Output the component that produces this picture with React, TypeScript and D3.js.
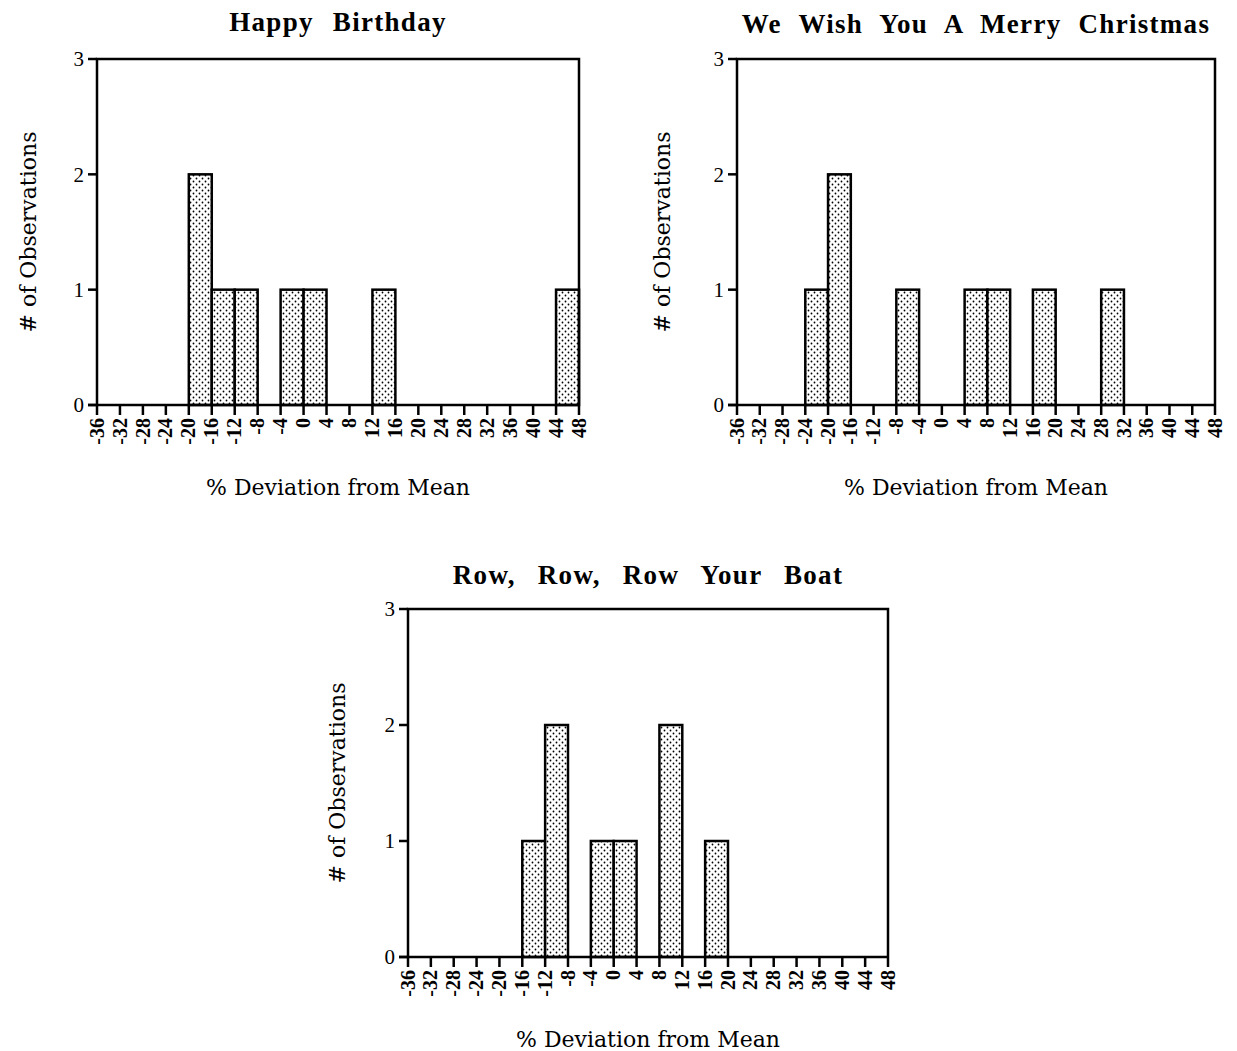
import React from 'react';
import * as d3 from 'd3';

// bin starts (% deviation), each bin is 4 wide
const birthdayBins = [-20, -16, -12, -4, 0, 12, 44];
const birthdayCounts = [2, 1, 1, 1, 1, 1, 1];

const christmasBins = [-24, -20, -8, 4, 8, 16, 28];
const christmasCounts = [1, 2, 1, 1, 1, 1, 1];

const rowBins = [-16, -12, -4, 0, 8, 16];
const rowCounts = [1, 2, 1, 1, 2, 1];

const xTicks = d3.range(-36, 49, 4);
const yTicks = [0, 1, 2, 3];

const times = '"Liberation Serif", serif';
const schoolbook = '"DejaVu Serif", serif';

type PanelProps = {
  title: string;
  bins: number[];
  counts: number[];
  left: number;
  right: number;
  top: number;
  bottom: number;
  titleY: number;
  yLabelX: number;
  gap: number;
};

function Panel({ title, bins, counts, left, right, top, bottom, titleY, yLabelX, gap }: PanelProps) {
  const x = d3.scaleLinear().domain([-36, 48]).range([left, right]);
  const y = d3.scaleLinear().domain([0, 3]).range([bottom, top]);
  const cx = (left + right) / 2;

  return (
    <g>
      <text
        x={cx}
        y={titleY}
        textAnchor="middle"
        fontFamily={times}
        fontWeight="bold"
        fontSize={27}
        letterSpacing={1.3}
        wordSpacing={gap}
      >
        {title}
      </text>

      {bins.map((b, i) => (
        <rect
          key={i}
          x={x(b)}
          y={y(counts[i])}
          width={x(b + 4) - x(b)}
          height={y(0) - y(counts[i])}
          fill="url(#dots)"
          stroke="#000"
          strokeWidth={2.5}
        />
      ))}

      {/* frame */}
      <path
        d={`M${left},${bottom} V${top} H${right} V${bottom}`}
        fill="none"
        stroke="#000"
        strokeWidth={2.5}
      />
      <line x1={left - 9} x2={right} y1={bottom} y2={bottom} stroke="#000" strokeWidth={2.5} />

      {yTicks.map((t) => (
        <g key={t}>
          <line x1={left - 9} x2={left} y1={y(t)} y2={y(t)} stroke="#000" strokeWidth={2.5} />
          <text x={left - 13} y={y(t)} dy="0.35em" textAnchor="end" fontFamily={times} fontSize={21}>
            {t}
          </text>
        </g>
      ))}

      {xTicks.map((t) => (
        <g key={t}>
          <line x1={x(t)} x2={x(t)} y1={bottom} y2={bottom + 10} stroke="#000" strokeWidth={2.5} />
          <text
            transform={`translate(${x(t)},${bottom + 13}) rotate(-90)`}
            dy="0.33em"
            textAnchor="end"
            fontFamily={times}
            fontWeight="bold"
            fontSize={20}
          >
            {t}
          </text>
        </g>
      ))}

      <text
        transform={`translate(${yLabelX},${(top + bottom) / 2}) rotate(-90)`}
        textAnchor="middle"
        fontFamily={schoolbook}
        fontSize={22}
      >
        # of Observations
      </text>
      <text x={cx} y={bottom + 90} textAnchor="middle" fontFamily={schoolbook} fontSize={22}>
        % Deviation from Mean
      </text>
    </g>
  );
}

export default function App() {
  return (
    <svg
      width={1237}
      height={1051}
      style={{ position: 'absolute', left: 0, top: 0, background: '#fff' }}
    >
      <defs>
        <pattern id="dots" width={6} height={6} patternUnits="userSpaceOnUse">
          <rect width={6} height={6} fill="#fff" />
          <circle cx={1.5} cy={1.5} r={0.9} fill="#000" />
          <circle cx={4.5} cy={4.5} r={0.9} fill="#000" />
        </pattern>
      </defs>
      <Panel
        title="Happy Birthday"
        bins={birthdayBins}
        counts={birthdayCounts}
        left={97}
        right={579}
        top={59}
        bottom={405}
        titleY={31}
        yLabelX={36}
        gap={11}
      />
      <Panel
        title="We Wish You A Merry Christmas"
        bins={christmasBins}
        counts={christmasCounts}
        left={737}
        right={1215}
        top={59}
        bottom={405}
        titleY={33}
        yLabelX={670}
        gap={9}
      />
      <Panel
        title="Row, Row, Row Your Boat"
        bins={rowBins}
        counts={rowCounts}
        left={408}
        right={888}
        top={609}
        bottom={957}
        titleY={584}
        yLabelX={345}
        gap={14}
      />
    </svg>
  );
}
